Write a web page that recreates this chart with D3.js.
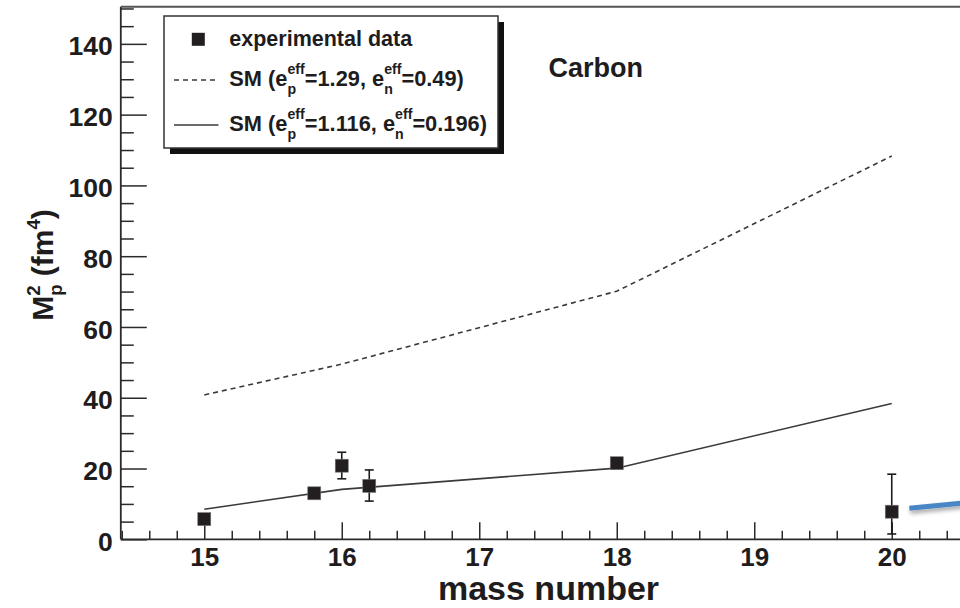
<!DOCTYPE html>
<html>
<head>
<meta charset="utf-8">
<script src="https://cdn.jsdelivr.net/npm/d3@7"></script>
<style>
  html, body { margin: 0; padding: 0; background: #fff; }
  svg { display: block; }
  text { font-family: "Liberation Sans", Arial, Helvetica, sans-serif; font-weight: bold; fill: #1e1c1d; white-space: pre; }
</style>
</head>
<body>
<div id="chart"></div>
<script>
// ── data ─────────────────────────────────────────────────
const massNumbers = [15, 15.8, 16, 16.2, 18, 20];
const expValues   = [5.7, 13.0, 20.8, 15.1, 21.5, 7.8];
const errLow      = [0, 0, 3.7, 4.3, 0, 6.3];
const errHigh     = [0, 0, 3.8, 4.5, 0, 10.6];

const smDashedMass = [15, 16, 18, 20];
const smDashedVal  = [40.8, 49.5, 70.1, 108.3];
const smSolidMass  = [15, 16, 18, 20];
const smSolidVal   = [8.5, 14.1, 20.1, 38.4];

const xMajorTicks = [15, 16, 17, 18, 19, 20];
const yMajorTicks = [0, 20, 40, 60, 80, 100, 120, 140];

// blue annotation stroke (starts right of the A=20 point)
const arrowMass = [20.128, 20.52];
const arrowVal  = [8.76, 10.25];

const W = 960, H = 608;
const FONT = '"Liberation Sans", Arial, Helvetica, sans-serif';

const svg = d3.select('#chart').append('svg').attr('width', W).attr('height', H);

const x = d3.scaleLinear().domain([14.393, 20.5]).range([120.8, 960.5]);
const y = d3.scaleLinear().domain([0, 150.5]).range([539.3, 6.7]);

const defs = svg.append('defs');
const sh = defs.append('filter').attr('id', 'shadow').attr('x', '-20%').attr('y', '-100%').attr('width', '140%').attr('height', '400%');
sh.append('feDropShadow').attr('dx', 1).attr('dy', 3).attr('stdDeviation', 2).attr('flood-color', '#000').attr('flood-opacity', 0.35);

// ── axes ─────────────────────────────────────────────────
const xMinor = d3.range(14.4, 20.5, 0.2).map(v => +v.toFixed(1)).filter(v => !xMajorTicks.includes(v));
const yMinor = d3.range(0, 151, 5).filter(v => v % 20 !== 0);

svg.append('g').attr('transform', `translate(0,${y(0)})`)
  .call(d3.axisBottom(x).tickValues(xMinor).tickSize(-8.5).tickFormat(''))
  .call(g => g.select('.domain').remove())
  .selectAll('line').attr('stroke', '#2a2a2a').attr('stroke-width', 1.5);

svg.append('g').attr('transform', `translate(0,${y(0)})`)
  .call(d3.axisBottom(x).tickValues(xMajorTicks).tickSize(-17).tickPadding(8).tickFormat(d3.format('d')))
  .call(g => g.select('.domain').remove())
  .call(g => g.selectAll('line').attr('stroke', '#2a2a2a').attr('stroke-width', 1.5))
  .call(g => g.selectAll('text').attr('font-size', 26).attr('font-family', FONT).attr('font-weight', 'bold').attr('fill', '#1e1c1d'));

svg.append('g').attr('transform', `translate(${x.range()[0]},0)`)
  .call(d3.axisLeft(y).tickValues(yMinor).tickSize(-13).tickFormat(''))
  .call(g => g.select('.domain').remove())
  .selectAll('line').attr('stroke', '#2a2a2a').attr('stroke-width', 1.5);

svg.append('g').attr('transform', `translate(${x.range()[0]},0)`)
  .call(d3.axisLeft(y).tickValues(yMajorTicks).tickSize(-26).tickPadding(8))
  .call(g => g.select('.domain').remove())
  .call(g => g.selectAll('line').attr('stroke', '#2a2a2a').attr('stroke-width', 1.5))
  .call(g => g.selectAll('text').attr('font-size', 26.5).attr('dy', '0.42em').attr('font-family', FONT).attr('font-weight', 'bold').attr('fill', '#1e1c1d'));

// frame: left, bottom, top
svg.append('line').attr('x1', x.range()[0]).attr('x2', W).attr('y1', y(0)).attr('y2', y(0))
  .attr('stroke', '#2a2a2a').attr('stroke-width', 1.8);
svg.append('line').attr('x1', x.range()[0]).attr('x2', x.range()[0]).attr('y1', y.range()[1]).attr('y2', y(0))
  .attr('stroke', '#2a2a2a').attr('stroke-width', 1.8);
svg.append('line').attr('x1', x.range()[0]).attr('x2', W).attr('y1', y.range()[1]).attr('y2', y.range()[1])
  .attr('stroke', '#555').attr('stroke-width', 2);

// ── shell-model curves ──────────────────────────────────
const line = d3.line().x(d => x(d[0])).y(d => y(d[1]));
svg.append('path').datum(d3.zip(smDashedMass, smDashedVal)).attr('d', line)
  .attr('fill', 'none').attr('stroke', '#3a3a3a').attr('stroke-width', 1.6).attr('stroke-dasharray', '5,4');
svg.append('path').datum(d3.zip(smSolidMass, smSolidVal)).attr('d', line)
  .attr('fill', 'none').attr('stroke', '#3a3a3a').attr('stroke-width', 1.6);

// ── experimental points ─────────────────────────────────
const pts = massNumbers.map((m, i) => ({ m, v: expValues[i], lo: expValues[i] - errLow[i], hi: expValues[i] + errHigh[i], e: errLow[i] + errHigh[i] }));
const eb = svg.append('g').attr('stroke', '#1e1c1d').attr('stroke-width', 1.6);
pts.filter(d => d.e > 0).forEach(d => {
  eb.append('line').attr('x1', x(d.m)).attr('x2', x(d.m)).attr('y1', y(d.lo)).attr('y2', y(d.hi));
  [d.lo, d.hi].forEach(v => eb.append('line').attr('x1', x(d.m) - 4.5).attr('x2', x(d.m) + 4.5).attr('y1', y(v)).attr('y2', y(v)));
});
const S = 13;
svg.append('g').selectAll('rect').data(pts).join('rect')
  .attr('x', d => x(d.m) - S / 2).attr('y', d => y(d.v) - S / 2)
  .attr('width', S).attr('height', S)
  .attr('fill', '#231f20').attr('stroke', '#777').attr('stroke-width', 0.6);

// blue annotation
svg.append('path').datum(d3.zip(arrowMass, arrowVal)).attr('d', line)
  .attr('fill', 'none').attr('stroke', '#4a86c6').attr('stroke-width', 5).attr('filter', 'url(#shadow)');

// ── text with sub/superscripts ──────────────────────────
function rich(g, x0, y0, size, pieces) {
  let cx = x0;
  pieces.forEach(p => {
    if (typeof p === 'string') {
      const t = g.append('text').attr('x', cx).attr('y', y0).attr('font-size', size).text(p.replace(/ /g, '\u00a0'));
      cx += t.node().getComputedTextLength();
    } else {
      const ss = size * (p.scale || 0.65);
      let w = 0;
      if (p.sup) {
        const t = g.append('text').attr('x', cx).attr('y', y0 - size * (p.supUp || 0.55)).attr('font-size', ss).text(p.sup);
        w = Math.max(w, t.node().getComputedTextLength());
      }
      if (p.sub) {
        const t = g.append('text').attr('x', cx).attr('y', y0 + size * (p.subDown || 0.38)).attr('font-size', ss).text(p.sub);
        w = Math.max(w, t.node().getComputedTextLength());
      }
      cx += w;
    }
  });
  return cx - x0;
}

// axis titles
svg.append('text').attr('x', 548.5).attr('y', 600).attr('text-anchor', 'middle').attr('font-size', 34).text('mass number');

const yt = svg.append('g');
const ytw = rich(yt, 0, 0, 30, ['M', { sup: '2', sub: 'p', scale: 0.62, supUp: 0.42, subDown: 0.3 }, ' (fm', { sup: '4', scale: 0.62, supUp: 0.42 }, ')']);
yt.attr('transform', `translate(53,${265 + ytw / 2}) rotate(-90)`);

svg.append('text').attr('x', 548.5).attr('y', 77.3).attr('font-size', 27).text('Carbon');

// ── legend ──────────────────────────────────────────────
const lg = svg.append('g');
lg.append('rect').attr('x', 170).attr('y', 22).attr('width', 334).attr('height', 132).attr('fill', '#111');
lg.append('rect').attr('x', 164).attr('y', 16).attr('width', 334).attr('height', 132)
  .attr('fill', '#fff').attr('stroke', '#333').attr('stroke-width', 1.5);

lg.append('rect').attr('x', 198.3 - S / 2).attr('y', 39.3 - S / 2).attr('width', S).attr('height', S).attr('fill', '#231f20');
lg.append('text').attr('x', 229.3).attr('y', 45.7).attr('font-size', 21.5).text('experimental data');

lg.append('line').attr('x1', 174).attr('x2', 218.5).attr('y1', 80).attr('y2', 80)
  .attr('stroke', '#3a3a3a').attr('stroke-width', 1.6).attr('stroke-dasharray', '5,4');
rich(lg, 229.3, 86, 21.8, ['SM (e', { sup: 'eff', sub: 'p' }, '=1.29, e', { sup: 'eff', sub: 'n' }, '=0.49)']);

lg.append('line').attr('x1', 174).attr('x2', 218.5).attr('y1', 125).attr('y2', 125)
  .attr('stroke', '#3a3a3a').attr('stroke-width', 1.6);
rich(lg, 229.3, 131, 21.8, ['SM (e', { sup: 'eff', sub: 'p' }, '=1.116, e', { sup: 'eff', sub: 'n' }, '=0.196)']);
</script>
</body>
</html>
